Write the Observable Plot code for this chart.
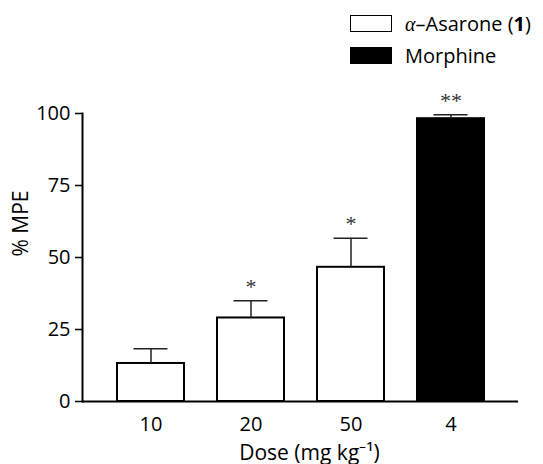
<!DOCTYPE html>
<html>
<head>
<meta charset="utf-8">
<script src="https://cdn.jsdelivr.net/npm/d3@7"></script>
<script src="https://cdn.jsdelivr.net/npm/@observablehq/plot@0.6"></script>
<style>
  html, body { margin: 0; padding: 0; background: #fff; }
  #wrap { position: relative; width: 543px; height: 464px; font-family: "Open Sans", sans-serif; }
  #legend { position: absolute; left: 0; top: 0; width: 543px; height: 80px; }
  .row { position: absolute; left: 350px; display: flex; align-items: center; font-size: 20px; color: #000; }
  .sw { width: 42px; height: 17px; box-sizing: border-box; border: 1.5px solid #000; margin-right: 13px; }
  .alpha { font-family: "Liberation Serif", serif; font-style: italic; }
</style>
</head>
<body>
<div id="wrap">
  <div id="chart"></div>
  <div id="legend"></div>
</div>
<script>
// ---- data ----
const doses = ["10", "20", "50", "4"];
const means = [13.2, 29.0, 46.6, 98.2];
const sems = [5.1, 6.0, 10.1, 1.4];
const groups = ["α–Asarone (1)", "α–Asarone (1)", "α–Asarone (1)", "Morphine"];
const stars = ["", "*", "*", "**"];
const groupNames = ["α–Asarone (1)", "Morphine"];
const groupColors = ["#ffffff", "#000000"];
const yTicks = [0, 25, 50, 75, 100];
const yLabel = "% MPE";
const xLabel = "Dose (mg kg⁻¹)";

const data = doses.map((d, i) => ({dose: d, mean: means[i], sem: sems[i], group: groups[i], star: stars[i]}));

const fontSans = "Open Sans, sans-serif";
const chart = Plot.plot({
  width: 543,
  height: 464,
  marginLeft: 82,
  marginRight: 25,
  marginTop: 113,
  marginBottom: 63,
  style: {fontFamily: fontSans, fontSize: "20px", color: "#000", background: "white"},
  x: {type: "band", domain: doses, range: [100, 500], paddingInner: 0.33, paddingOuter: 0.165, align: 0.5, label: null},
  y: {domain: [0, 100], label: null},
  color: {domain: groupNames, range: groupColors},
  marks: [
    Plot.barY(data, {x: "dose", y: "mean", fill: "group", stroke: "#000", strokeWidth: 2}),
    Plot.ruleX(data, {x: "dose", y1: "mean", y2: d => d.mean + d.sem, stroke: "#222", strokeWidth: 1.5}),
    Plot.tickY(data, {x: "dose", y: d => d.mean + d.sem, stroke: "#222", strokeWidth: 1.5, insetLeft: 16.5, insetRight: 16.5}),
    Plot.text(data, {x: "dose", y: d => d.mean + d.sem, text: "star", lineAnchor: "bottom", dy: -7, fontFamily: "Liberation Serif, serif", fontSize: 22, fill: "#333"}),
    Plot.ruleY([0], {stroke: "#000", strokeWidth: 2}),
    Plot.frame({anchor: "left", stroke: "#000", strokeWidth: 2}),
    Plot.axisY({ticks: yTicks, tickSize: 7, tickPadding: 5, label: null, fontSize: 20, strokeWidth: 1.5}),
    Plot.axisX({tickSize: 0, tickPadding: 15, label: null, fontSize: 20}),
    Plot.text([yLabel], {frameAnchor: "left", dx: -61, dy: -1, rotate: -90, fontSize: 21, fontFamily: fontSans}),
    Plot.text([xLabel], {frameAnchor: "bottom", dx: 9, dy: 58, fontSize: 21, fontFamily: fontSans})
  ]
});
document.getElementById("chart").appendChild(chart);

// ---- legend ----
const legend = document.getElementById("legend");
const tops = [15, 47];
groupNames.forEach((g, i) => {
  const row = document.createElement("div");
  row.className = "row";
  row.style.top = (tops[i] - 4) + "px";
  row.style.height = "24px";
  const sw = document.createElement("div");
  sw.className = "sw";
  sw.style.background = groupColors[i];
  row.appendChild(sw);
  const label = document.createElement("span");
  if (g.startsWith("α")) {
    label.innerHTML = '<span class="alpha">α</span>–Asarone (<b>1</b>)';
  } else {
    label.textContent = g;
  }
  row.appendChild(label);
  legend.appendChild(row);
});
</script>
</body>
</html>
